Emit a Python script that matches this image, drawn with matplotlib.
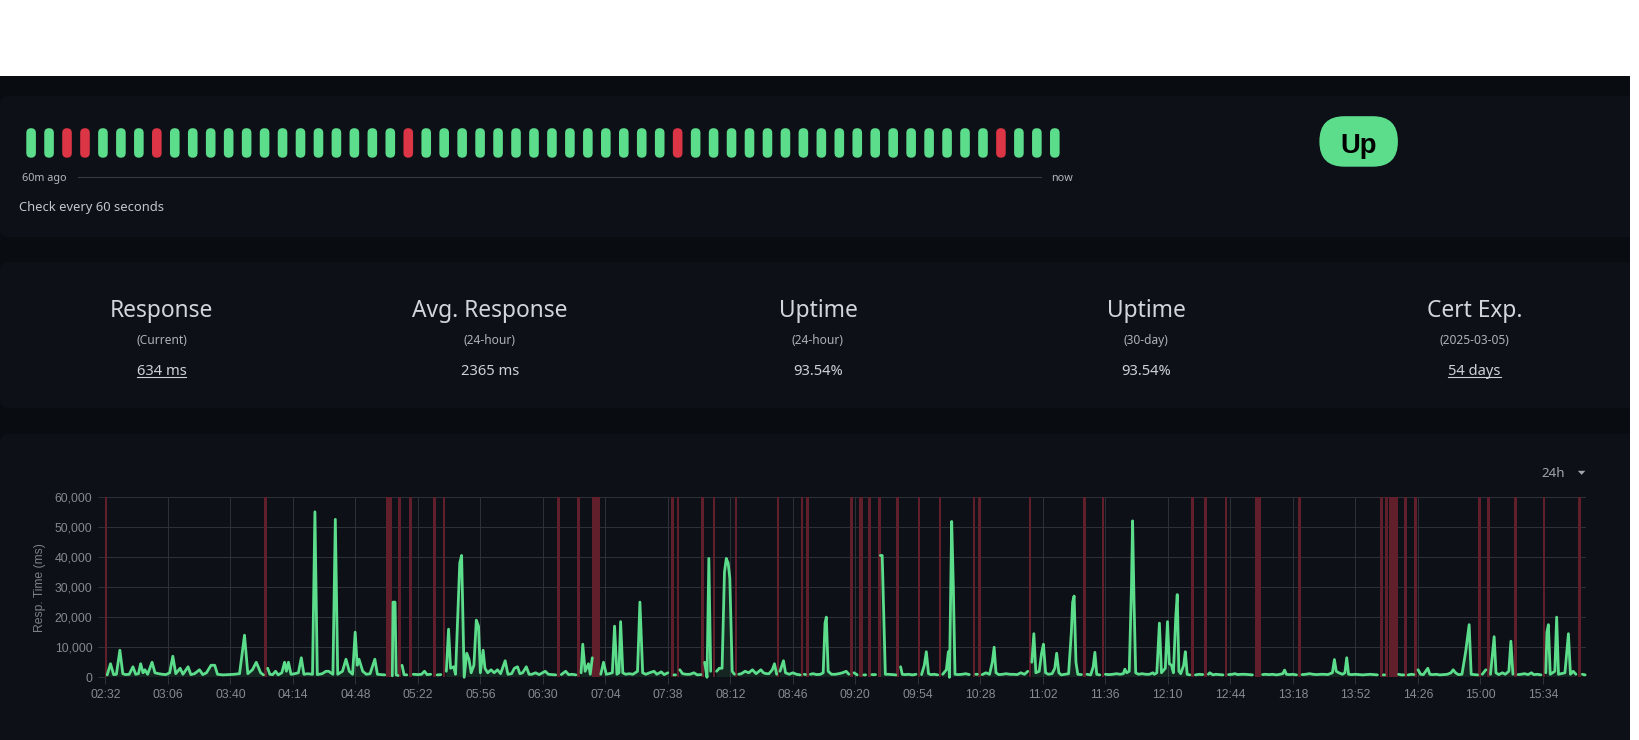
import numpy as np
import matplotlib
matplotlib.use("Agg")
import matplotlib.pyplot as plt
from matplotlib.patches import FancyBboxPatch, Rectangle, Polygon

# ---------------- data ----------------
# heartbeat bar (last 60 minutes, oldest first): 1 = up, 0 = down
beats = [1, 1, 0, 0, 1, 1, 1, 0, 1, 1, 1, 1, 1, 1, 1, 1, 1, 1, 1, 1,
         1, 0, 1, 1, 1, 1, 1, 1, 1, 1, 1, 1, 1, 1, 1, 1, 0, 1, 1, 1,
         1, 1, 1, 1, 1, 1, 1, 1, 1, 1, 1, 1, 1, 1, 0, 1, 1, 1]
status_label = "Up"
check_text = "Check every 60 seconds"

stat_titles = ["Response", "Avg. Response", "Uptime", "Uptime", "Cert Exp."]
stat_subtitles = ["(Current)", "(24-hour)", "(24-hour)", "(30-day)", "(2025-03-05)"]
stat_values = ["634 ms", "2365 ms", "93.54%", "93.54%", "54 days"]
stat_is_link = [True, False, False, False, True]

range_label = "24h"
y_label = "Resp. Time (ms)"
y_ticks = [0, 10000, 20000, 30000, 40000, 50000, 60000]
x_tick_labels = ["02:32", "03:06", "03:40", "04:14", "04:48", "05:22", "05:56", "06:30",
                 "07:04", "07:38", "08:12", "08:46", "09:20", "09:54", "10:28", "11:02",
                 "11:36", "12:10", "12:44", "13:18", "13:52", "14:26", "15:00", "15:34"]
x_range_min = [151.7, 957.3]   # minutes after midnight

# response time (minutes after midnight, ms)
resp_times = [
    153, 154.8, 156.5, 158, 159.9, 161.5, 163, 165, 167, 168.5, 170, 171.2, 172.5, 173.5, 175,
    177.4, 179, 181, 183, 185, 187, 188.7, 190.3, 192.7, 194.2, 197, 198.5, 200.5, 203.2, 205,
    207, 209.5, 211.5, 213, 216, 219, 222, 225, 227.7, 229.5, 232, 234.1, 236.5, 238,
    240.3, 241.5, 243, 244.6, 246, 248, 249.5, 250.5, 251.6, 253, 255, 257, 258.6, 260, 262,
    264.7, 266, 267.3, 270, 272, 273.5, 275.8, 277.1, 278.4, 281, 282.9, 284.7, 286.5, 287.9,
    289, 290, 292, 294, 296, 298.6, 300, 302, 304, 308.1, 308.5, 309.6, 310.2, 311.2,
    313.4, 314.5, 316, 319.5, 322, 324, 325.6, 327, 329, 332.5, 334.5,
    337.5, 338.7, 339.8, 341.5, 342.5, 344.8, 345.8, 347.2, 348.6, 349.8, 351, 352.5, 353.8,
    355, 356, 357.5, 358.5, 360, 361.8, 363.5, 365.3, 367, 369.5, 371, 373, 374.5, 376.2,
    377.5, 379, 381, 382.5, 384, 386, 388, 391.3, 393, 395, 397,
    400, 402.4, 404, 406, 408, 410.8, 411.7, 413, 414.8, 415.8, 416.9,
    421.5, 423, 424.5, 426, 427.8, 429, 430.3, 431.4, 432.3, 433.5, 435, 437, 439, 441.5,
    442.8, 444.3, 446, 448, 450.5, 452, 454.4, 456, 458, 461.3, 462.2,
    464.5, 466, 468, 470, 472.2, 474, 476, 478, 479.3, 480.3, 481.3,
    484.5, 486, 487.5, 488.8, 489.8, 490.8, 491.7, 493, 494.2,
    496.5, 498, 500, 502, 504, 506, 508.6, 510, 511.5, 513, 514.8, 516, 517.2,
    519, 520.9, 522, 524, 526, 528, 530, 532.2, 532.9,
    535.5, 537, 539, 541, 542.5, 543.5, 544.2, 545.2, 547, 549, 551, 553, 555, 556.5,
    559.3, 561, 564.6, 565.6, 569, 571, 573.6, 574.6, 576.3, 578, 580, 582,
    584.6, 585.5, 587, 589, 591, 593, 596, 597.5, 598.6, 599.8, 601, 603, 604.8,
    607.5, 609.5, 610.6, 611.2, 612.4, 613.3, 614.2, 616, 618, 620, 622, 625.5, 626.4,
    629, 631, 633, 634.5, 635.5, 636.5, 638, 640, 642, 644, 646, 648, 650, 652, 653.8,
    656, 657.1, 658.2, 660, 661.3, 662.3, 663.5, 665, 667, 668.5, 669.5, 670.7, 672, 674,
    676, 677.5, 678.2, 679, 680, 681, 683, 686, 688, 689.4, 690.3, 691.3, 693,
    696, 698, 700, 702, 704, 705.8, 706.6, 707.6, 709, 710.2, 710.8, 711.6, 712.5, 714,
    716, 718, 720, 721.8, 722.6, 724, 725.4, 726.5, 728.6, 729.8, 730.8, 732, 733, 734.3,
    735.1, 736, 737, 738.6, 739.5, 740.5, 742, 745, 747, 749, 752, 752.8, 754.5, 756,
    758, 760, 763, 765, 766.5, 768, 770, 772, 774, 776, 781.5, 783, 785, 787, 789, 791,
    792.5, 793.5, 794.5, 796, 798, 800, 803, 805, 807, 809, 811, 813, 815, 817, 819.5,
    820.6, 821.6, 823, 825, 826.3, 827.3, 828.3, 830, 832, 834, 836, 838, 840, 842, 844,
    847.2, 847.9, 855.5, 857, 858.3, 860.7, 862.5, 863.8, 866.1, 867.5, 869, 871.4,
    872.5, 874, 876, 878, 880, 882, 884, 885.2, 886.5, 888, 890, 892, 893.9, 895, 897,
    898.5, 901, 903, 905.5, 907.5, 908.5, 910, 912, 913.5, 915.5, 916.6, 917.7, 920.5,
    922, 924, 926, 927.8, 929, 931, 933, 935.6, 936.2, 937, 938, 940.5, 941.5, 942.5,
    944, 946, 947.9, 949, 950.5, 952, 955.5, 957]
resp_ms = [
    800, 4500, 900, 1000, 9000, 1200, 900, 1000, 3500, 1000, 1200, 4500, 1500, 2500, 1000,
    5000, 1500, 1200, 1000, 900, 1500, 7000, 1200, 3000, 1000, 3500, 900, 1200, 2500, 900,
    1500, 4000, 4000, 1000, 800, 900, 1000, 1200, 14000, 1200, 2500, 5000, 1500, 800,
    3000, 1000, 900, 2000, 800, 1500, 5000, 2000, 5000, 1000, 1200, 1500, 6500, 1000, 1200,
    1000, 55000, 900, 1200, 2000, 2000, 1000, 52500, 1000, 2000, 6000, 2000, 1000, 15000,
    4000, 6000, 2000, 1000, 1200, 6000, 1000, 900, 800, 500, 25000, 25000, 800, 600,
    4000, 900, 800, 1000, 900, 1000, 2000, 900, 1000, 800, 900,
    2000, 16000, 3000, 3500, 1000, 38000, 40500, 0, 8000, 6000, 1500, 4000, 19000,
    17000, 1500, 9000, 3000, 1500, 2500, 1500, 2500, 1200, 5500, 1000, 1200, 3000, 3500,
    1200, 1500, 3500, 1000, 1000, 1500, 900, 2000, 1000, 900, 800,
    900, 2000, 900, 1000, 800, 1500, 11000, 2000, 4500, 1000, 6500,
    1000, 5000, 1000, 1200, 1500, 17000, 1000, 1500, 18500, 1500, 1000, 1200, 1000, 2000,
    25000, 1500, 1000, 1500, 2000, 1000, 1800, 900, 1500, 800, 800,
    2500, 1200, 1000, 1000, 1500, 800, 900, 5000, 0, 39500, 2000,
    2000, 3000, 3000, 35000, 39500, 38000, 33000, 2000, 1000,
    1000, 1200, 2000, 1500, 2500, 1200, 2500, 1500, 1200, 1200, 2500, 4500, 1000,
    2000, 5500, 1500, 1000, 1500, 1000, 800, 1000, 900,
    1000, 1200, 900, 1000, 1500, 18000, 20000, 2000, 1000, 1000, 1200, 1500, 2000, 1000,
    1500, 800, 800, 800, 900, 900, 40500, 40500, 1000, 1000, 900, 800,
    3500, 1000, 900, 1000, 800, 1000, 900, 4000, 8500, 1200, 900, 1000, 800,
    1000, 2500, 8500, 0, 51800, 30000, 1000, 900, 1000, 1200, 900, 1000, 1000,
    900, 1500, 1000, 5000, 10000, 1500, 900, 1000, 1200, 1000, 1000, 900, 1500, 1000, 2000,
    5000, 14500, 1500, 2000, 8000, 11000, 1500, 1000, 1200, 3000, 8000, 1500, 800, 1000,
    1200, 15000, 25000, 27000, 5000, 1000, 900, 1000, 800, 3500, 8300, 1000, 800,
    1000, 900, 1000, 1200, 1000, 1200, 2700, 1500, 2000, 30000, 52000, 25000, 1500, 1000,
    1200, 1000, 1000, 1500, 1000, 1500, 18000, 1500, 3000, 18500, 4500, 4000, 1500, 20000,
    27500, 2000, 1200, 4000, 8500, 1000, 800, 800, 1000, 900, 1000, 1500, 800, 1000,
    900, 800, 900, 1000, 1200, 900, 1000, 1000, 900, 800, 900, 1000, 900, 1000, 800, 1000,
    1200, 2400, 1000, 900, 1000, 800, 900, 1000, 1200, 1000, 900, 1000, 1000, 900, 1500,
    5900, 2000, 1500, 1000, 1500, 6500, 1000, 900, 1000, 900, 800, 900, 1000, 900, 800,
    800, 800, 1000, 800, 800, 800, 1000, 900, 2500, 1000, 900, 3000,
    1000, 900, 1000, 800, 900, 1000, 1500, 2500, 1500, 900, 1000, 8500, 17500, 1000, 900,
    800, 1000, 2500, 1000, 13500, 1500, 900, 1500, 1000, 2000, 12000, 1000, 900,
    1000, 1200, 900, 1500, 900, 1000, 800, 1500, 15000, 17500, 1000, 2000, 20000, 1000,
    1200, 1500, 14500, 1000, 2000, 1000, 1000, 800]

# down beats (minutes after midnight)
down_times = [152.2, 239, 305.4, 306.4, 307.2, 312, 318, 331, 336.3, 398.5, 409.5,
              417.5, 418.5, 419.5, 420.5, 460.5, 463.5, 477, 483, 495, 518, 531, 534,
              558, 562.5, 563.5, 567.7, 573, 583, 594.7, 606, 624.5, 627.5, 655, 684.8,
              694.8, 743.3, 750.5, 761.6, 778, 779, 780, 801.6, 846.2, 848.9, 851.2,
              852.2, 853.2, 854.3, 859.4, 864.8, 899.6, 904.4, 919, 934.5, 954]

# ---------------- style ----------------
W, H = 1640, 740
PAGE_BG = "#090c10"
CARD_BG = "#0d1117"
GREEN = "#5cdd8b"
RED = "#dc3545"
DOWN_BAR = "#601f2a"
GRID = "#2c3037"
TICK_TXT = "#868a90"
UI_FONT = ["Noto Sans", "DejaVu Sans"]
CHART_FONT = ["Liberation Sans", "DejaVu Sans"]
plt.rcParams["font.family"] = UI_FONT

fig = plt.figure(figsize=(W / 100, H / 100), dpi=100, facecolor="white")
bg = fig.add_axes([0, 0, 1, 1])
bg.set_xlim(0, W)
bg.set_ylim(H, 0)
bg.axis("off")

# page + cards
bg.add_patch(Rectangle((0, 76), 1630, H - 76, facecolor=PAGE_BG, lw=0, zorder=0))
for y0, y1 in [(96, 237), (262, 408), (434, 760)]:
    bg.add_patch(FancyBboxPatch((0, y0), 1660, y1 - y0,
                                boxstyle="round,pad=0,rounding_size=9",
                                facecolor=CARD_BG, lw=0, zorder=1))

# heartbeat pills
bw, bh, top, pitch, first = 9.6, 29.5, 128.2, 17.96, 31.1
for i, b in enumerate(beats):
    cx = first + pitch * i
    bg.add_patch(FancyBboxPatch((cx - bw / 2, top), bw, bh,
                                boxstyle="round,pad=0,rounding_size=4.8",
                                facecolor=GREEN if b else RED, lw=0, zorder=3))

bg.text(22, 181.3, "60m ago", fontsize=7.8, color="#b4b8be", ha="left", va="baseline", zorder=4)
bg.plot([78, 1041], [177.3, 177.3], color="#363a40", lw=0.8, zorder=3)
bg.text(1051, 181.3, "now", fontsize=7.8, color="#b4b8be", ha="left", va="baseline", zorder=4)
bg.text(18.6, 211, check_text, fontsize=9.3, color="#c3c7cd", ha="left", va="baseline", zorder=4)

# status pill
bg.add_patch(FancyBboxPatch((1319.4, 116.2), 78.5, 50.5,
                            boxstyle="round,pad=0,rounding_size=25",
                            facecolor=GREEN, lw=0, zorder=3))
bg.text(1358.6, 152.7, status_label, fontsize=19.8, fontweight="bold", color="#000000",
        ha="center", va="baseline", family=["Liberation Sans", "DejaVu Sans"], zorder=4)

# stats row
col_x0, col_dx = 161.5, 328.25
value_texts = []
for k in range(len(stat_titles)):
    cx = col_x0 + col_dx * k
    bg.text(cx, 316.7, stat_titles[k], fontsize=16.4, color="#d2d6dc", ha="center",
            va="baseline", zorder=4)
    bg.text(cx, 344.3, stat_subtitles[k], fontsize=8.6, color="#aeb2b8", ha="center",
            va="baseline", zorder=4)
    t = bg.text(cx, 375, stat_values[k], fontsize=10.6, color="#cdd1d7", ha="center",
                va="baseline", zorder=4)
    value_texts.append((t, stat_is_link[k]))

# range selector
bg.text(1541.8, 477.3, range_label, fontsize=9.6, color="#a2a6ac", ha="left",
        va="baseline", zorder=4)
bg.add_patch(Polygon([[1577.8, 470.8], [1585.4, 470.8], [1581.6, 474.8]], closed=True,
                     facecolor="#a2a6ac", lw=0, zorder=4))

# y label
bg.text(40.4, 588, y_label, fontsize=8.7, color="#7d8187", rotation=90, ha="center",
        va="center", family=CHART_FONT, zorder=4)

# white strip at right edge
bg.add_patch(Rectangle((1630, 0), 20, H, facecolor="white", lw=0, zorder=10))

# ---------------- chart ----------------
px0, px1, py_top, py_bot = 104.8, 1585.7, 496.8, 677.3
ax = fig.add_axes([px0 / W, (H - py_bot) / H, (px1 - px0) / W, (py_bot - py_top) / H])
ax.patch.set_visible(False)
for s in ax.spines.values():
    s.set_visible(False)

tick_pos = [int(s[:2]) * 60 + int(s[3:]) for s in x_tick_labels]
ax.set_xlim(*x_range_min)
ax.set_ylim(y_ticks[0], y_ticks[-1])
ax.set_xticks(tick_pos)
ax.set_xticklabels(x_tick_labels)
ax.set_yticks(y_ticks)
ax.set_yticklabels([f"{v:,}" for v in y_ticks])
ax.set_axisbelow(True)
ax.grid(True, color=GRID, lw=0.75)
ax.tick_params(axis="x", length=5, width=0.75, color=GRID, labelcolor=TICK_TXT,
               labelsize=8.8, pad=3.4)
ax.tick_params(axis="y", length=5, width=0.75, color=GRID, labelcolor=TICK_TXT,
               labelsize=8.8, pad=4.0)
for lab in ax.get_xticklabels() + ax.get_yticklabels():
    lab.set_family(CHART_FONT)

# down bars
ax.bar(down_times, [y_ticks[-1]] * len(down_times), width=1.4, bottom=0,
       color=DOWN_BAR, lw=0, zorder=2)

# response line with gaps at down beats
t_all = np.concatenate([np.array(resp_times, float), np.array(down_times, float)])
v_all = np.concatenate([np.array(resp_ms, float), np.full(len(down_times), np.nan)])
order = np.argsort(t_all, kind="stable")
t_all, v_all = t_all[order], v_all[order]
ax.fill_between(t_all, 0, v_all, color=GREEN, alpha=0.10, lw=0, zorder=3)
ax.plot(t_all, v_all, color=GREEN, lw=2.0, solid_joinstyle="round",
        solid_capstyle="round", zorder=4, clip_on=False)

# underline links
fig.canvas.draw()
r = fig.canvas.get_renderer()
inv = bg.transData.inverted()
for t, is_link in value_texts:
    if is_link:
        bb = t.get_window_extent(r)
        (xa, _), (xb, _) = inv.transform([[bb.x0, bb.y0], [bb.x1, bb.y1]])
        bg.plot([xa, xb], [377.2, 377.2], color="#cdd1d7", lw=0.8, zorder=4)

fig.savefig("out.png", dpi=100, facecolor="white")
